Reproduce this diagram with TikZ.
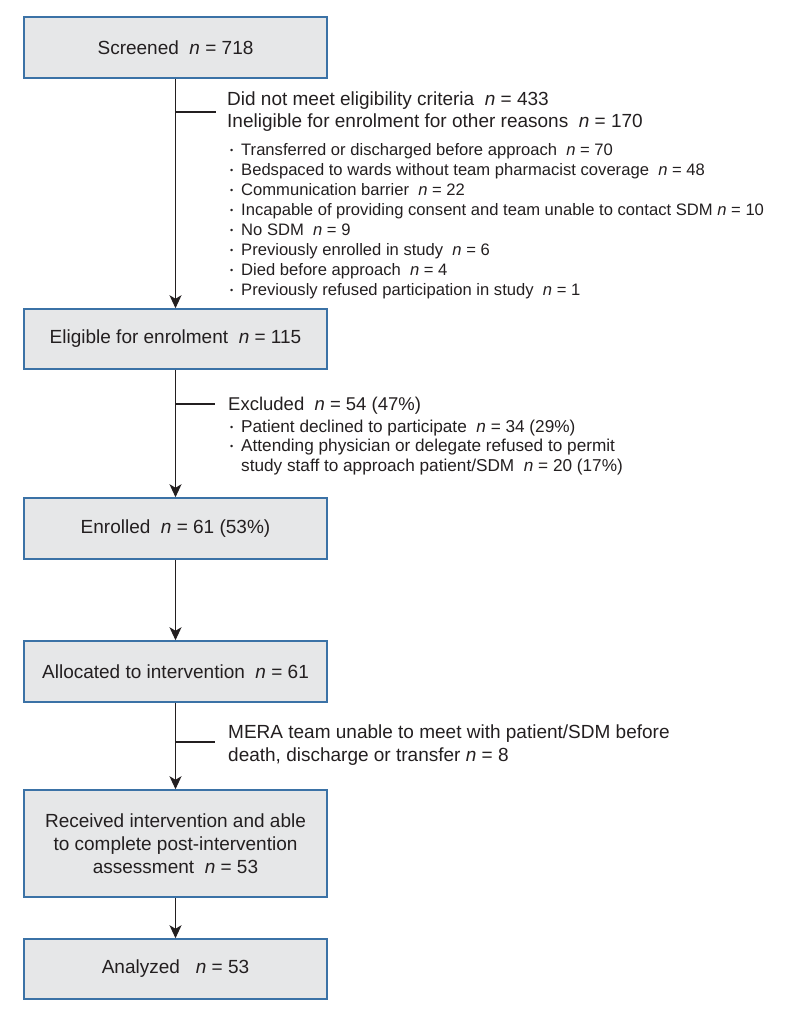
\documentclass[tikz,border=0pt]{standalone}
\usepackage{fontspec}
\setmainfont{Liberation Sans}
\usetikzlibrary{arrows.meta}
\definecolor{boxfill}{HTML}{E6E7E8}
\definecolor{boxline}{HTML}{3B72A6}
\definecolor{ink}{HTML}{231F20}
\newcommand{\nn}{\textit{n}}
\newcommand{\bul}{\makebox[11pt][l]{\raisebox{0.12em}{\fontsize{9}{9}\selectfont\textbullet}}}
\tikzset{
  flowbox/.style={draw=boxline, line width=1.5pt, fill=boxfill, minimum width=303pt,
    inner sep=0pt, text=ink, align=center, font=\fontsize{19}{23}\selectfont},
  sidenote/.style={anchor=north west, inner sep=0pt, text=ink, align=left},
  flow/.style={draw=ink, line width=1.3pt, -{Stealth[length=13pt,width=12pt,inset=3.5pt]}},
  branch/.style={draw=ink, line width=1.3pt}
}
\begin{document}
\begin{tikzpicture}[x=1pt,y=-1pt]
  \useasboundingbox (0,0) rectangle (788,1015);
  \node[flowbox, minimum height=61pt] (screened) at (175.5,47.5) {Screened\ \ \nn{} = 718};
  \node[flowbox, minimum height=60pt] (eligible) at (175.5,339) {Eligible for enrolment\ \ \nn{} = 115};
  \node[flowbox, minimum height=61pt] (enrolled) at (175.5,528.5) {Enrolled\ \ \nn{} = 61 (53\%)};
  \node[flowbox, minimum height=61pt] (allocated) at (175.5,671.5) {Allocated to intervention\ \ \nn{} = 61};
  \node[flowbox, minimum height=107pt] (received) at (175.5,843.5)
    {Received intervention and able\\to complete post-intervention\\assessment\ \ \nn{} = 53};
  \node[flowbox, minimum height=60pt] (analyzed) at (175.5,969) {Analyzed\ \ \ \nn{} = 53};

  \node[sidenote, font=\fontsize{19}{21.5}\selectfont] (criteria) at (227,92)
    {Did not meet eligibility criteria\ \ \nn{} = 433\\
     Ineligible for enrolment for other reasons\ \ \nn{} = 170};
  \node[sidenote, font=\fontsize{16.6}{20}\selectfont] (reasons) at (230,143.5)
    {\bul Transferred or discharged before approach\ \ \nn{} = 70\\
     \bul Bedspaced to wards without team pharmacist coverage\ \ \nn{} = 48\\
     \bul Communication barrier\ \ \nn{} = 22\\
     \bul Incapable of providing consent and team unable to contact SDM \nn{} = 10\\
     \bul No SDM\ \ \nn{} = 9\\
     \bul Previously enrolled in study\ \ \nn{} = 6\\
     \bul Died before approach\ \ \nn{} = 4\\
     \bul Previously refused participation in study\ \ \nn{} = 1};
  \node[sidenote, font=\fontsize{18.5}{21.5}\selectfont] (excluded) at (228,397)
    {Excluded\ \ \nn{} = 54 (47\%)};
  \node[sidenote, font=\fontsize{17.2}{19.5}\selectfont] (declined) at (230,419.5)
    {\bul Patient declined to participate\ \ \nn{} = 34 (29\%)\\
     \bul Attending physician or delegate refused to permit\\
     \hspace*{11pt}study staff to approach patient/SDM\ \ \nn{} = 20 (17\%)};
  \node[sidenote, font=\fontsize{19}{23}\selectfont] (unmet) at (228,724.6)
    {MERA team unable to meet with patient/SDM before\\
     death, discharge or transfer \nn{} = 8};

  \coordinate (criteria-tap) at (216,112);
  \coordinate (excluded-tap) at (215,404);
  \coordinate (unmet-tap) at (215,742);

  \draw[flow] (screened) -- (eligible);
  \draw[flow] (eligible) -- (enrolled);
  \draw[flow] (enrolled) -- (allocated);
  \draw[flow] (allocated) -- (received);
  \draw[flow] (received) -- (analyzed);

  \draw[branch] (screened.south |- criteria-tap) -- (criteria-tap);
  \draw[branch] (eligible.south |- excluded-tap) -- (excluded-tap);
  \draw[branch] (allocated.south |- unmet-tap) -- (unmet-tap);
\end{tikzpicture}
\end{document}
